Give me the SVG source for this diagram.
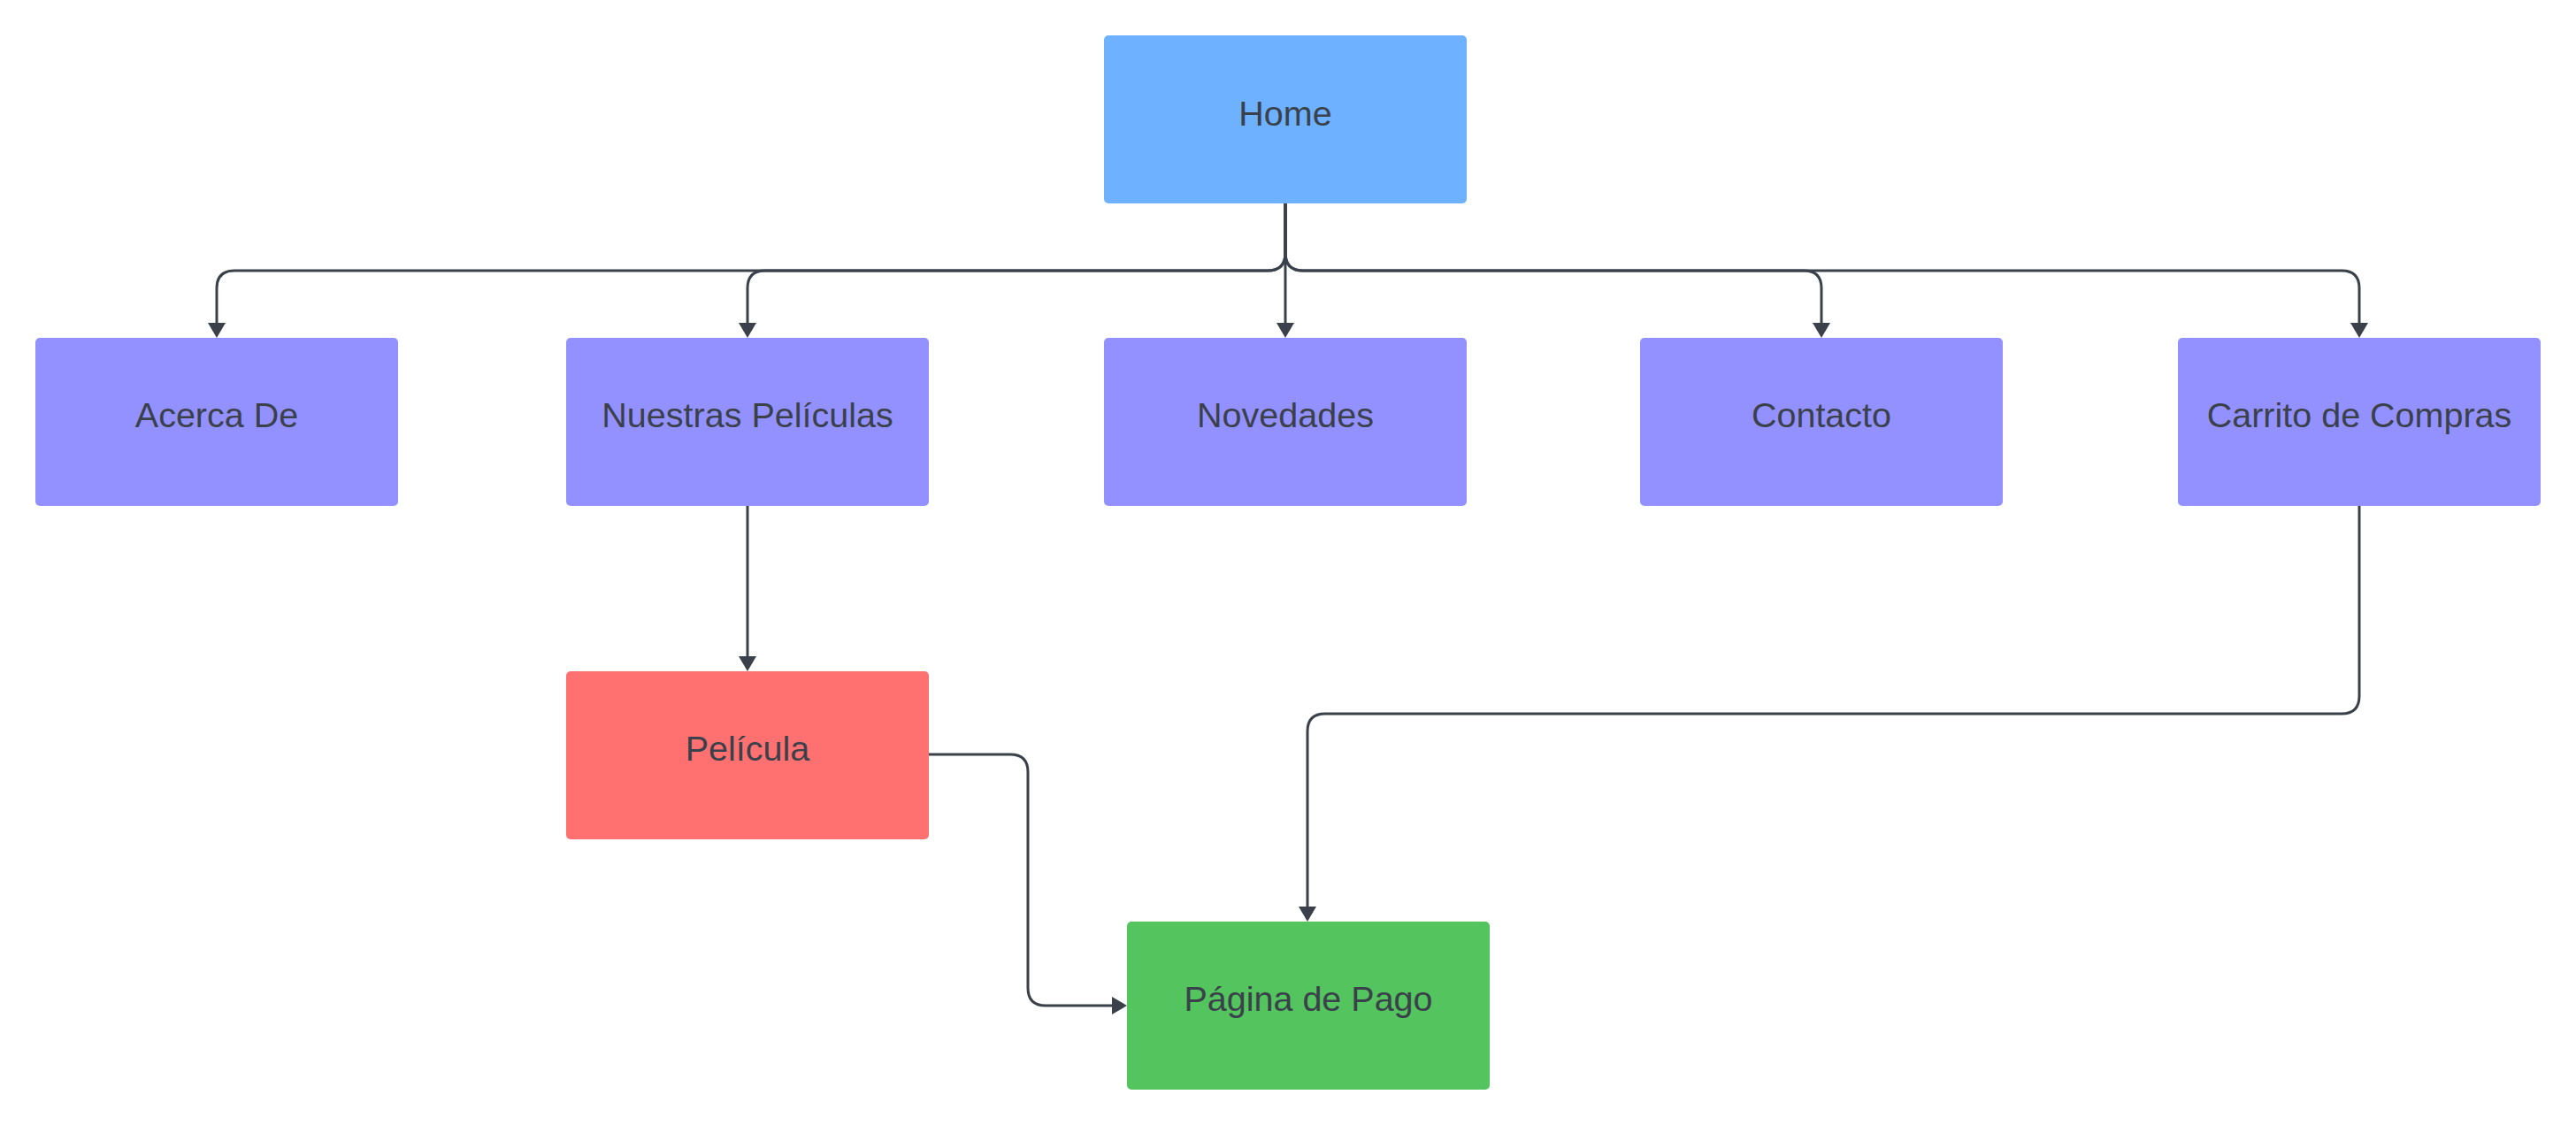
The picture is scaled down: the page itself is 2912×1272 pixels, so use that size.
<svg xmlns="http://www.w3.org/2000/svg" width="2912" height="1272" viewBox="0 0 2912 1272">
<style>
.box{stroke:none}
.lbl{font-family:"Liberation Sans",Arial,sans-serif;font-size:39.5px;fill:#3a414a;text-anchor:middle}
.edge{fill:none;stroke:#3a414a;stroke-width:3;marker-end:url(#arr)}
</style>
<defs>
<marker id="arr" markerUnits="userSpaceOnUse" viewBox="0 0 17 20" markerWidth="17" markerHeight="20" refX="0" refY="10" orient="auto">
<path d="M0,0 L17,10 L0,20 z" fill="#3a414a"/>
</marker>
</defs>
<rect width="2912" height="1272" fill="#ffffff"/>
<g id="connectors">
<path class="edge" d="M1453,230 V286 Q1453,306 1433,306 H265 Q245,306 245,326 V365"/>
<path class="edge" d="M1453,230 V286 Q1453,306 1433,306 H865 Q845,306 845,326 V365"/>
<path class="edge" d="M1453,230 V365"/>
<path class="edge" d="M1453,230 V286 Q1453,306 1473,306 H2039 Q2059,306 2059,326 V365"/>
<path class="edge" d="M1453,230 V286 Q1453,306 1473,306 H2647 Q2667,306 2667,326 V365"/>
<path class="edge" d="M845,572 V742"/>
<path class="edge" d="M1050,853 H1142 Q1162,853 1162,873 V1117 Q1162,1137 1182,1137 H1257"/>
<path class="edge" d="M2667,572 V787 Q2667,807 2647,807 H1498 Q1478,807 1478,827 V1025"/>
</g>
<g id="home"><rect class="box" x="1248" y="40" width="410" height="190" rx="5" fill="#6db1ff"/><text class="lbl" x="1453" y="142">Home</text></g>
<g id="acerca"><rect class="box" x="40" y="382" width="410" height="190" rx="5" fill="#9391ff"/><text class="lbl" x="245" y="483">Acerca De</text></g>
<g id="nuestras"><rect class="box" x="640" y="382" width="410" height="190" rx="5" fill="#9391ff"/><text class="lbl" x="845" y="483">Nuestras Películas</text></g>
<g id="novedades"><rect class="box" x="1248" y="382" width="410" height="190" rx="5" fill="#9391ff"/><text class="lbl" x="1453" y="483">Novedades</text></g>
<g id="contacto"><rect class="box" x="1854" y="382" width="410" height="190" rx="5" fill="#9391ff"/><text class="lbl" x="2059" y="483">Contacto</text></g>
<g id="carrito"><rect class="box" x="2462" y="382" width="410" height="190" rx="5" fill="#9391ff"/><text class="lbl" x="2667" y="483">Carrito de Compras</text></g>
<g id="pelicula"><rect class="box" x="640" y="759" width="410" height="190" rx="5" fill="#ff7070"/><text class="lbl" x="845" y="860">Película</text></g>
<g id="pago"><rect class="box" x="1274" y="1042" width="410" height="190" rx="5" fill="#54c45e"/><text class="lbl" x="1479" y="1143">Página de Pago</text></g>
</svg>
